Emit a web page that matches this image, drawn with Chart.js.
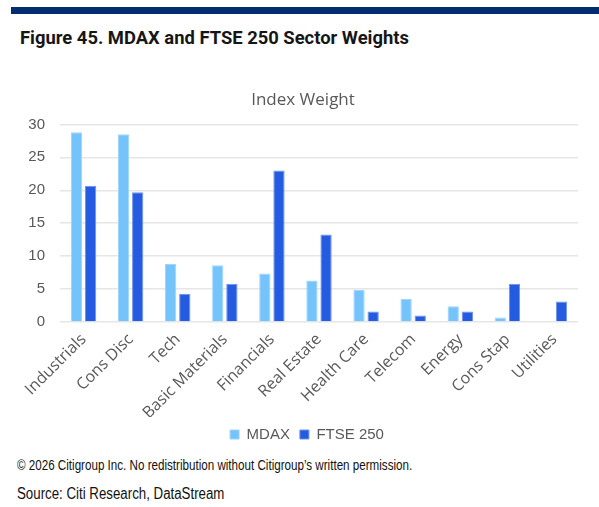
<!DOCTYPE html>
<html>
<head>
<meta charset="utf-8">
<script src="https://cdn.jsdelivr.net/npm/chart.js@4.4.1/dist/chart.umd.min.js"></script>
<style>
  html, body { margin: 0; padding: 0; background: #fff; }
  #page { position: relative; width: 599px; height: 507px; overflow: hidden; }
  #topbar { position: absolute; left: 11px; top: 7px; width: 588px; height: 7px; background: #022d6e; }
  #title { position: absolute; left: 20px; top: 27px; font-family: Roboto, sans-serif; font-weight: bold;
           font-size: 18.4px; color: #161616; white-space: nowrap; }
  #chartBox { position: absolute; left: 0; top: 80px; width: 599px; height: 372px; }
  .foot { position: absolute; left: 17px; font-family: "Liberation Sans", Arial, sans-serif;
          color: #111; white-space: nowrap; transform: scaleX(0.83); transform-origin: 0 0; }
  #copy { top: 457px; font-size: 14px; }
  #source { top: 485px; font-size: 16px; }
</style>
</head>
<body>
<div id="page">
  <div id="topbar"></div>
  <div id="title">Figure 45. MDAX and FTSE 250 Sector Weights</div>
  <div id="chartBox"><canvas id="barChart"></canvas></div>
  <div class="foot" id="copy">© 2026 Citigroup Inc. No redistribution without Citigroup’s written permission.</div>
  <div class="foot" id="source">Source: Citi Research, DataStream</div>
</div>
<script>
// dados
var sectors = ["Industrials", "Cons Disc", "Tech", "Basic Materials", "Financials", "Real Estate",
  "Health Care", "Telecom", "Energy", "Cons Stap", "Utilities"];
var mdaxWeights = [28.8, 28.5, 8.8, 8.6, 7.35, 6.3, 4.9, 3.5, 2.4, 0.7, 0];
var ftseWeights = [20.7, 19.7, 4.3, 5.8, 23.0, 13.3, 1.6, 1.0, 1.6, 5.8, 3.1];
var yTicks = [0, 5, 10, 15, 20, 25, 30];

// empurra título e legenda um pouco para a direita (centro da página)
var shiftBoxes = {
  id: "shiftBoxes",
  afterLayout: function (chart) {
    if (chart.legend) { chart.legend.left += 18; chart.legend.right += 18; }
    if (chart.titleBlock) { chart.titleBlock.left += 14; chart.titleBlock.right += 14; }
  },
};

document.addEventListener("DOMContentLoaded", function () {
  var ctx = document.getElementById("barChart").getContext("2d");
  var barChart = new Chart(ctx, {
    type: "bar",
    plugins: [shiftBoxes],
    data: {
      labels: sectors,
      datasets: [
        {
          label: "MDAX",
          data: mdaxWeights,
          backgroundColor: "#74c3fb",
          borderColor: "#9fd4fb",
          borderWidth: 1,
          categoryPercentage: 0.6,
          barPercentage: 0.8,
        },
        {
          label: "FTSE 250",
          data: ftseWeights,
          backgroundColor: "#245be0",
          borderColor: "#6f93ea",
          borderWidth: 1,
          categoryPercentage: 0.6,
          barPercentage: 0.8,
        },
      ],
    },
    options: {
      responsive: true,
      maintainAspectRatio: false,
      animation: false,
      layout: { padding: { left: 0, right: 21, top: 0, bottom: 0 } },
      plugins: {
        title: {
          display: true,
          text: "Index Weight",
          color: "#595959",
          font: { family: "Open Sans", size: 17, weight: "normal" },
          padding: { top: 10, bottom: 14 },
        },
        legend: {
          position: "bottom",
          labels: {
            color: "#595959",
            font: { family: "Liberation Sans", size: 15 },
            boxWidth: 9,
            boxHeight: 9,
            padding: 10,
          },
        },
        tooltip: { enabled: false },
      },
      scales: {
        y: {
          min: 0,
          max: 30,
          afterBuildTicks: function (axis) {
            axis.ticks = yTicks.map(function (v) { return { value: v }; });
          },
          afterFit: function (axis) { axis.width = 60; },
          border: { display: false },
          grid: { color: "#e6e6e6", lineWidth: 1.5, drawTicks: false },
          ticks: {
            color: "#595959",
            font: { family: "Liberation Sans", size: 15 },
            padding: 15,
          },
        },
        x: {
          afterFit: function (axis) { axis.height = 95; },
          border: { display: false },
          grid: { display: false },
          ticks: {
            color: "#595959",
            font: { family: "Open Sans", size: 16 },
            minRotation: 45,
            maxRotation: 45,
            autoSkip: false,
            padding: 0,
          },
        },
      },
    },
  });
});
</script>
</body>
</html>
